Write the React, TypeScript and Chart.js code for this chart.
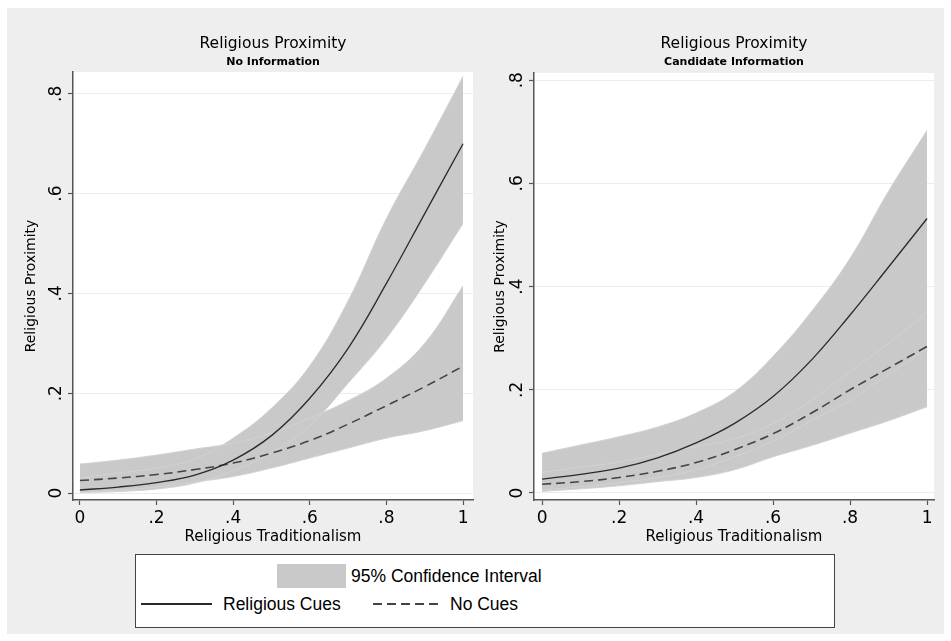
import React, { useEffect, useRef } from "react";
import { Chart, registerables } from "chart.js";

Chart.register(...registerables);

// ---------- data ----------
const X_VALUES = [0, 0.1, 0.2, 0.3, 0.4, 0.5, 0.6, 0.7, 0.8, 0.9, 1];

const X_TICKS = [0, 0.2, 0.4, 0.6, 0.8, 1];
const X_TICK_LABELS = ["0", ".2", ".4", ".6", ".8", "1"];
const Y_TICKS = [0, 0.2, 0.4, 0.6, 0.8];
const Y_TICK_LABELS = ["0", ".2", ".4", ".6", ".8"];

const PANEL_TITLE = "Religious Proximity";
const PANEL_SUBTITLES = ["No Information", "Candidate Information"];
const X_TITLE = "Religious Traditionalism";
const Y_TITLE = "Religious Proximity";
const LEGEND_LABELS = ["95% Confidence Interval", "Religious Cues", "No Cues"];

// Panel 1: No Information
const NOINFO_CUES_MEAN = [0.006, 0.012, 0.021, 0.036, 0.066, 0.115, 0.19, 0.29, 0.42, 0.56, 0.7];
const NOINFO_CUES_UPPER = [0.03, 0.04, 0.05, 0.068, 0.11, 0.17, 0.255, 0.385, 0.55, 0.69, 0.835];
const NOINFO_CUES_LOWER = [0.001, 0.003, 0.008, 0.02, 0.045, 0.08, 0.135, 0.22, 0.31, 0.42, 0.54];
const NOINFO_NOCUES_MEAN = [0.025, 0.03, 0.037, 0.047, 0.06, 0.08, 0.105, 0.138, 0.175, 0.213, 0.254];
const NOINFO_NOCUES_UPPER = [0.058, 0.066, 0.076, 0.088, 0.1, 0.12, 0.15, 0.185, 0.23, 0.3, 0.415];
const NOINFO_NOCUES_LOWER = [0.002, 0.006, 0.012, 0.022, 0.033, 0.05, 0.07, 0.09, 0.11, 0.125, 0.145];

// Panel 2: Candidate Information
const CAND_CUES_MEAN = [0.027, 0.036, 0.048, 0.068, 0.097, 0.135, 0.187, 0.258, 0.345, 0.438, 0.532];
const CAND_CUES_UPPER = [0.077, 0.093, 0.109, 0.128, 0.155, 0.196, 0.265, 0.352, 0.455, 0.585, 0.703];
const CAND_CUES_LOWER = [0.006, 0.012, 0.02, 0.03, 0.045, 0.07, 0.1, 0.14, 0.18, 0.23, 0.28];
const CAND_NOCUES_MEAN = [0.017, 0.022, 0.03, 0.042, 0.059, 0.084, 0.115, 0.155, 0.2, 0.242, 0.284];
const CAND_NOCUES_UPPER = [0.04, 0.05, 0.06, 0.075, 0.09, 0.105, 0.135, 0.18, 0.235, 0.29, 0.35];
const CAND_NOCUES_LOWER = [0.003, 0.008, 0.014, 0.022, 0.03, 0.045, 0.07, 0.092, 0.116, 0.14, 0.167];

// ---------- styles ----------
const OUTER_BG = "#eeeeee";
const BAND = "#c9c9c9";
const BAND_EDGE = "#d3d3d3";
const AXIS = "#555555";
const TEXT = "#000000";
const FONT = '"DejaVu Sans", Verdana, sans-serif';
const LEGEND_FONT = '"Liberation Sans", Arial, sans-serif';

const pts = (ys: number[]) => X_VALUES.map((x, i) => ({ x, y: ys[i] }));

type PanelSpec = {
  subtitle: string;
  canvasLeft: number;
  width: number;
  height: number;
  yWidth: number;
  padTop: number;
  padRight: number;
  xHeight: number;
  xMin: number;
  xMax: number;
  yMin: number;
  yMax: number;
  yTitleOffset: number;
  cuesMean: number[];
  cuesUpper: number[];
  cuesLower: number[];
  noMean: number[];
  noUpper: number[];
  noLower: number[];
};

function makeTextPlugin(spec: PanelSpec) {
  return {
    id: "panelText",
    beforeDraw(chart: any) {
      const { ctx, chartArea: a } = chart;
      ctx.save();
      ctx.fillStyle = "#ffffff";
      ctx.fillRect(a.left, a.top, a.right - a.left, a.bottom - a.top);
      ctx.restore();
    },
    afterDraw(chart: any) {
      const { ctx, chartArea: a, scales } = chart;
      const cx = (a.left + a.right) / 2;
      const cy = (a.top + a.bottom) / 2;
      ctx.save();
      ctx.fillStyle = TEXT;
      ctx.textAlign = "center";
      ctx.textBaseline = "middle";
      ctx.font = `15.5px ${FONT}`;
      ctx.fillText(PANEL_TITLE, cx, 43.5);
      ctx.font = `bold 11px ${FONT}`;
      ctx.fillText(spec.subtitle, cx, 62);
      ctx.font = `15px ${FONT}`;
      ctx.fillText(X_TITLE, cx, 537);

      ctx.save();
      ctx.translate(a.left - spec.yTitleOffset, cy);
      ctx.rotate(-Math.PI / 2);
      ctx.font = `14px ${FONT}`;
      ctx.fillText(Y_TITLE, 0, 0);
      ctx.restore();

      ctx.font = `17px ${FONT}`;
      Y_TICKS.forEach((v, i) => {
        const py = scales.y.getPixelForValue(v);
        ctx.save();
        ctx.translate(a.left - 16, py);
        ctx.rotate(-Math.PI / 2);
        ctx.fillText(Y_TICK_LABELS[i], 0, 0);
        ctx.restore();
      });
      ctx.restore();
    },
  };
}

function Panel({ spec }: { spec: PanelSpec }) {
  const ref = useRef<HTMLCanvasElement | null>(null);

  useEffect(() => {
    if (!ref.current) return;
    const common = {
      pointRadius: 0,
      pointHoverRadius: 0,
      tension: 0.4,
    };
    const bandUpper = (ys: number[]) => ({
      ...common,
      data: pts(ys),
      fill: "+1",
      backgroundColor: BAND,
      borderColor: BAND_EDGE,
      borderWidth: 1,
      order: 2,
    });
    const bandLower = (ys: number[]) => ({
      ...common,
      data: pts(ys),
      fill: false,
      borderColor: BAND_EDGE,
      borderWidth: 1,
      order: 2,
    });

    const chart = new Chart(ref.current, {
      type: "line",
      data: {
        datasets: [
          bandUpper(spec.cuesUpper) as any,
          bandLower(spec.cuesLower) as any,
          bandUpper(spec.noUpper) as any,
          bandLower(spec.noLower) as any,
          {
            ...common,
            label: LEGEND_LABELS[1],
            data: pts(spec.cuesMean),
            fill: false,
            borderColor: "#2a2a2a",
            borderWidth: 1.3,
            order: 0,
          },
          {
            ...common,
            label: LEGEND_LABELS[2],
            data: pts(spec.noMean),
            fill: false,
            borderColor: "#444444",
            borderWidth: 1.6,
            borderDash: [9, 5],
            order: 0,
          },
        ],
      },
      options: {
        responsive: false,
        maintainAspectRatio: false,
        animation: false,
        events: [],
        layout: {
          padding: { top: spec.padTop, right: spec.padRight, bottom: 0, left: 0 },
        },
        plugins: {
          legend: { display: false },
          tooltip: { enabled: false },
          filler: { drawTime: "beforeDatasetsDraw" },
        } as any,
        scales: {
          x: {
            type: "linear",
            min: spec.xMin,
            max: spec.xMax,
            afterBuildTicks: (s: any) => {
              s.ticks = X_TICKS.map((v) => ({ value: v }));
            },
            afterFit: (s: any) => {
              s.height = spec.xHeight;
            },
            ticks: {
              callback: (_v: any, i: number) => X_TICK_LABELS[i],
              font: { family: FONT, size: 17 },
              color: TEXT,
              padding: 3,
              maxRotation: 0,
              minRotation: 0,
              autoSkip: false,
            },
            grid: {
              drawOnChartArea: false,
              tickLength: 5,
              tickColor: AXIS,
              tickWidth: 1.2,
            },
            border: { display: true, color: AXIS, width: 1.5 },
          },
          y: {
            type: "linear",
            min: spec.yMin,
            max: spec.yMax,
            afterBuildTicks: (s: any) => {
              s.ticks = Y_TICKS.map((v) => ({ value: v }));
            },
            afterFit: (s: any) => {
              s.width = spec.yWidth;
            },
            ticks: { display: false },
            grid: {
              color: "#ececec",
              lineWidth: 1,
              tickLength: 5,
              tickColor: AXIS,
              tickWidth: 1.2,
            },
            border: { display: true, color: AXIS, width: 1.5 },
          },
        } as any,
      },
      plugins: [makeTextPlugin(spec)],
    });
    return () => chart.destroy();
  }, [spec]);

  return (
    <canvas
      ref={ref}
      width={spec.width}
      height={spec.height}
      style={{
        position: "absolute",
        left: spec.canvasLeft,
        top: 0,
        width: spec.width,
        height: spec.height,
      }}
    />
  );
}

const LEFT: PanelSpec = {
  subtitle: PANEL_SUBTITLES[0],
  canvasLeft: 0,
  width: 480,
  height: 545,
  yWidth: 73,
  padTop: 72,
  padRight: 7,
  xHeight: 45,
  xMin: -0.018,
  xMax: 1.026,
  yMin: -0.014,
  yMax: 0.8437,
  yTitleOffset: 42,
  cuesMean: NOINFO_CUES_MEAN,
  cuesUpper: NOINFO_CUES_UPPER,
  cuesLower: NOINFO_CUES_LOWER,
  noMean: NOINFO_NOCUES_MEAN,
  noUpper: NOINFO_NOCUES_UPPER,
  noLower: NOINFO_NOCUES_LOWER,
};

const RIGHT: PanelSpec = {
  subtitle: PANEL_SUBTITLES[1],
  canvasLeft: 480,
  width: 471,
  height: 545,
  yWidth: 54,
  padTop: 73,
  padRight: 17,
  xHeight: 45,
  xMin: -0.021,
  xMax: 1.018,
  yMin: -0.0136,
  yMax: 0.814,
  yTitleOffset: 34,
  cuesMean: CAND_CUES_MEAN,
  cuesUpper: CAND_CUES_UPPER,
  cuesLower: CAND_CUES_LOWER,
  noMean: CAND_NOCUES_MEAN,
  noUpper: CAND_NOCUES_UPPER,
  noLower: CAND_NOCUES_LOWER,
};

const legendText: React.CSSProperties = {
  position: "absolute",
  fontFamily: LEGEND_FONT,
  fontSize: 17.5,
  lineHeight: "20px",
  height: 20,
  color: TEXT,
  whiteSpace: "nowrap",
};

export default function App() {
  return (
    <div
      style={{
        position: "fixed",
        left: 0,
        top: 0,
        width: 951,
        height: 641,
        background: "#ffffff",
        overflow: "hidden",
      }}
    >
      <div
        style={{
          position: "absolute",
          left: 7,
          top: 8,
          width: 937,
          height: 626,
          background: OUTER_BG,
        }}
      />
      <Panel spec={LEFT} />
      <Panel spec={RIGHT} />
      <div
        style={{
          position: "absolute",
          left: 135,
          top: 554,
          width: 700,
          height: 74,
          boxSizing: "border-box",
          border: "1.5px solid #444",
          background: "#ffffff",
        }}
      >
        <div
          style={{
            position: "absolute",
            left: 141,
            top: 9,
            width: 69,
            height: 24,
            background: BAND,
          }}
        />
        <div style={{ ...legendText, left: 215, top: 11 }}>{LEGEND_LABELS[0]}</div>
        <div
          style={{
            position: "absolute",
            left: 5,
            top: 48,
            width: 71,
            height: 1.5,
            background: "#2a2a2a",
          }}
        />
        <div style={{ ...legendText, left: 87, top: 39 }}>{LEGEND_LABELS[1]}</div>
        <div
          style={{
            position: "absolute",
            left: 237,
            top: 48,
            width: 66,
            height: 1.5,
            background:
              "repeating-linear-gradient(to right, #444 0px, #444 9px, transparent 9px, transparent 14px)",
          }}
        />
        <div style={{ ...legendText, left: 314, top: 39 }}>{LEGEND_LABELS[2]}</div>
      </div>
    </div>
  );
}
